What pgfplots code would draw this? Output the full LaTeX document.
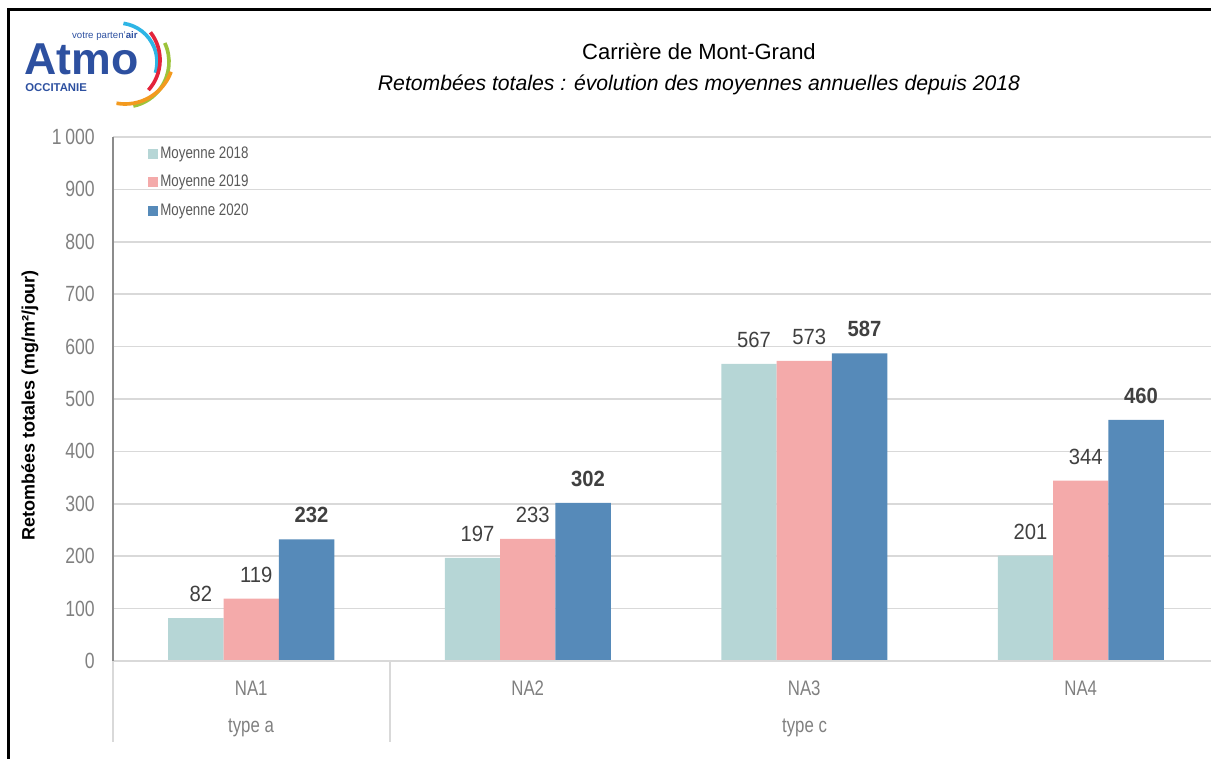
\documentclass[border=0pt]{standalone}
\usepackage{pgfplots}
\pgfplotsset{compat=1.18}
\usepackage{fontspec}
\setmainfont{Liberation Sans}
\newfontfamily\narrowfont[FakeStretch=0.8]{Liberation Sans}
\newfontfamily\labfont[FakeStretch=0.92]{Liberation Sans}

\definecolor{c18}{RGB}{182,214,214}
\definecolor{c19}{RGB}{244,170,170}
\definecolor{c20}{RGB}{86,138,185}
\definecolor{gridc}{RGB}{217,217,217}
\definecolor{tickc}{RGB}{128,128,128}
\definecolor{legc}{RGB}{89,89,89}
\definecolor{labc}{RGB}{64,64,64}
\definecolor{atmoblue}{RGB}{45,80,160}
\definecolor{logocyan}{RGB}{46,181,229}
\definecolor{logored}{RGB}{227,36,59}
\definecolor{logogreen}{RGB}{157,195,59}
\definecolor{logoorange}{RGB}{243,154,31}

\begin{document}
\begin{tikzpicture}
\begin{axis}[
    at={(0,0)}, anchor=south west,
    scale only axis, width=663.6pt, height=314.4pt,
    xmin=-0.5, xmax=3.5, ymin=0, ymax=1000,
    clip=false,
    axis line style={draw=none},
    major tick length=0pt,
    ytick={0,100,...,1000},
    yticklabels={0,100,200,300,400,500,600,700,800,900,1\,000},
    yticklabel style={font=\narrowfont\fontsize{13.2}{15}\selectfont, text=tickc,
        anchor=east, inner sep=0pt, xshift=-10.8pt},
    xtick={0,1,2,3}, xticklabels={NA1,NA2,NA3,NA4},
    xticklabel style={font=\narrowfont\fontsize{12.6}{15}\selectfont, text=tickc,
        anchor=center, inner sep=0pt, yshift=-16.2pt},
    ymajorgrids, grid style={gridc, line width=0.9pt},
    ybar, bar width=33.2pt,
    nodes near coords={\pgfmathprintnumber[assume math mode=true]{\pgfplotspointmeta}},
    every node near coord/.append style={font=\labfont\fontsize{13.2}{15}\selectfont,
        text=labc, inner sep=0pt, anchor=south, yshift=9.6pt, xshift=3pt},
]
% Moyenne 2018
\addplot[fill=c18, draw=none, bar shift=-33.2pt] coordinates {(0,82) (1,197) (2,567) (3,201)};
% Moyenne 2019
\addplot[fill=c19, draw=none, bar shift=0pt] coordinates {(0,119) (1,233) (2,573) (3,344)};
% Moyenne 2020 (labels in bold)
\addplot[fill=c20, draw=none, bar shift=33.2pt,
    every node near coord/.append style={font=\labfont\bfseries\fontsize{13.2}{15}\selectfont}]
    coordinates {(0,232) (1,302) (2,587) (3,460)};
\end{axis}

% everything else in pixel units of the reference (y downwards)
\begin{scope}[shift={(-67.8pt,396.6pt)}, x=0.6pt, y=-0.6pt]
% axis lines and category separators
\draw[gridc, line width=1.5pt] (113,661) -- (1219,661);
\draw[gridc, line width=1.2pt] (113,661) -- (113,742) (390,661) -- (390,742) (1219,661) -- (1219,742);
\draw[black!45, line width=0.8pt] (113,137) -- (113,661);
\node[font=\narrowfont\fontsize{12.6}{15}\selectfont, text=tickc] at (251,728) {type a};
\node[font=\narrowfont\fontsize{12.6}{15}\selectfont, text=tickc] at (804.5,728) {type c};

% legend
\fill[c18] (148,149) rectangle (158,159);
\fill[c19] (148,177) rectangle (158,187);
\fill[c20] (148,206) rectangle (158,216);
\begin{scope}[every node/.style={anchor=west, inner sep=0pt, text=legc,
    font=\narrowfont\fontsize{10}{12}\selectfont}]
\node at (160,154) {Moyenne 2018};
\node at (160,182) {Moyenne 2019};
\node at (160,211) {Moyenne 2020};
\end{scope}

% titles
\node[font=\fontsize{13.2}{15}\selectfont] at (699,52) {Carrière de Mont-Grand};
\node[font=\itshape\fontsize{12.7}{15}\selectfont] at (699,85)
    {Retombées totales : évolution des moyennes annuelles depuis 2018};

% y label
\node[rotate=90, font=\bfseries\fontsize{10.8}{13}\selectfont] at (30,405)
    {Retombées totales (mg/m²/jour)};

% logo
\node[anchor=base west, inner sep=0pt, text depth=0pt, text height=19.2pt, text=atmoblue,
    font=\bfseries\fontsize{26.8}{28}\selectfont] at (24,74) {Atmo};
\node[anchor=base east, inner sep=0pt, text=atmoblue, font=\fontsize{5.8}{6}\selectfont]
    at (138,38) {votre parten'\textbf{air}};
\node[anchor=base west, inner sep=0pt, text=atmoblue, font=\bfseries\fontsize{6.8}{7.5}\selectfont]
    at (25,91) {OCCITANIE};
\draw[logocyan, line width=2.2pt] (118,62) ++(-82:39) arc[start angle=-82, end angle=16, radius=39];
\draw[logored, line width=2.2pt] (115,60) ++(-38:45) arc[start angle=-38, end angle=42, radius=45];
\draw[logogreen, line width=2.2pt] (124,62) ++(-25:45) arc[start angle=-25, end angle=78, radius=45];
\draw[logoorange, line width=2.2pt] (125,55) ++(20:49) arc[start angle=20, end angle=100, radius=49];

% frame
\draw[black, line width=1.6pt] (8.5,760) -- (8.5,9.3) -- (1213,9.3);

\pgfresetboundingbox
\path[use as bounding box] (0,0) rectangle (1211,758);
\end{scope}
\end{tikzpicture}
\end{document}
